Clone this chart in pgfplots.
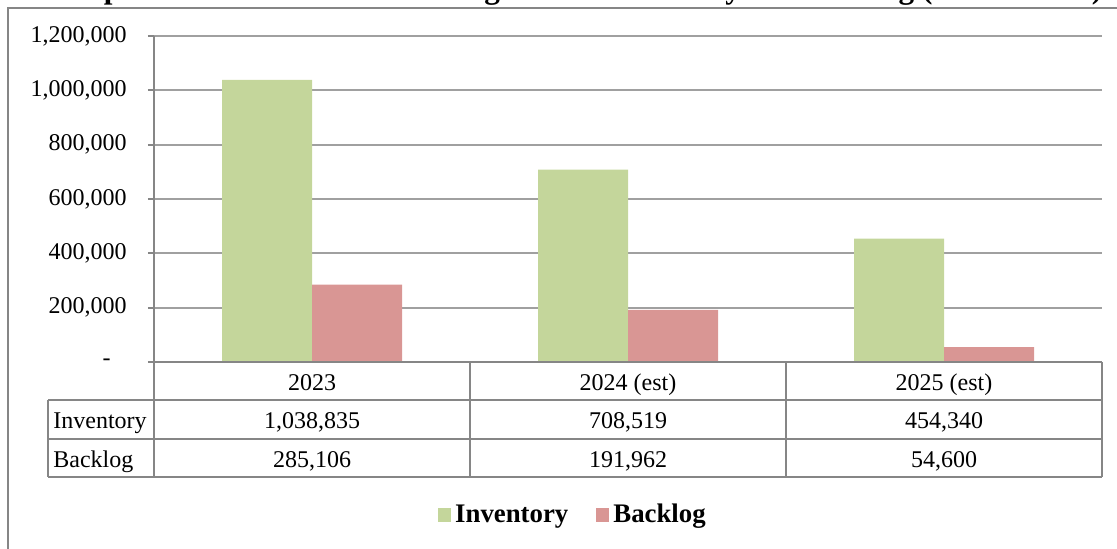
\documentclass[border=0pt]{standalone}
\usepackage{pgfplots}
\pgfplotsset{compat=1.18}
\usepackage{fontspec}
\setmainfont{Liberation Serif}
\definecolor{invgreen}{RGB}{196,214,155}
\definecolor{backpink}{RGB}{217,150,148}
\definecolor{axisgray}{RGB}{134,134,134}
\definecolor{gridgray}{RGB}{160,160,160}

\begin{document}
\begin{tikzpicture}
\useasboundingbox (0pt,0pt) rectangle (558.5pt,-274pt);
\begin{axis}[
  at={(77pt,-181pt)}, anchor=south west,
  scale only axis, width=474pt, height=163pt,
  xmin=-0.5, xmax=2.5, ymin=0, ymax=1200000,
  axis lines*=left,
  axis line style={draw=axisgray, line width=1pt, -},
  xtick=\empty,
  ytick={0,200000,400000,600000,800000,1000000,1200000},
  yticklabels={{\makebox[12pt][l]{-}},{200,000},{400,000},{600,000},{800,000},{1,000,000},{1,200,000}},
  scaled y ticks=false,
  tick align=outside, major tick length=3pt,
  ytick style={draw=axisgray, line width=1pt},
  yticklabel style={font=\fontsize{12}{14}\selectfont, anchor=east, inner sep=0pt, xshift=-10.5pt},
  ymajorgrids, grid style={draw=gridgray, line width=1pt},
  ybar, bar width=45pt,
  legend columns=2,
  legend style={at={(0.443,-0.469)}, anchor=center, draw=none, fill=none,
    font=\fontsize{13.4}{15}\selectfont\bfseries,
    /tikz/every even column/.append style={column sep=12pt}},
  legend image code/.code={\fill[#1] (0pt,-3.4pt) rectangle (6.5pt,3.4pt);},
]
\addplot[fill=invgreen, draw=none, bar shift=-22.5pt] coordinates {(0,1038835) (1,708519) (2,454340)};
\addlegendentry{Inventory}
\addplot[fill=backpink, draw=none, bar shift=22.5pt] coordinates {(0,285106) (1,191962) (2,54600)};
\addlegendentry{Backlog}
\end{axis}
\begin{scope}[x=0.5pt,y=-0.5pt]
  % outer chart border
  \draw[axisgray, line width=1pt] (8,620) -- (8,8) -- (1200,8);
  % title (mostly clipped by the picture's top edge, as in the reference)
  \node[anchor=base, inner sep=0pt, font=\fontsize{15.6}{18}\selectfont\bfseries] at (571,-1.5)
    {Compensation and Pension Rating Claims Inventory and Backlog (End of Year)};
  % data table
  \begin{scope}[axisgray, line width=1pt]
    \draw (148,362) -- (1102,362);
    \draw (48,400) -- (1102,400);
    \draw (48,439) -- (1102,439);
    \draw (48,477) -- (1102,477);
    \draw (48,400) -- (48,477);
    \draw (154,362) -- (154,477);
    \draw (470,362) -- (470,477);
    \draw (786,362) -- (786,477);
    \draw (1102,362) -- (1102,477);
  \end{scope}
  \begin{scope}[font=\fontsize{12}{14}\selectfont, inner sep=0pt, anchor=base]
    \node at (312,390) {2023};
    \node at (628,390) {2024 (est)};
    \node at (944,390) {2025 (est)};
    \node[anchor=base west] at (53,428) {Inventory};
    \node[anchor=base west] at (53,467) {Backlog};
    \node at (312,428) {1,038,835};
    \node at (628,428) {708,519};
    \node at (944,428) {454,340};
    \node at (312,467) {285,106};
    \node at (628,467) {191,962};
    \node at (944,467) {54,600};
  \end{scope}
\end{scope}
\end{tikzpicture}
\end{document}
